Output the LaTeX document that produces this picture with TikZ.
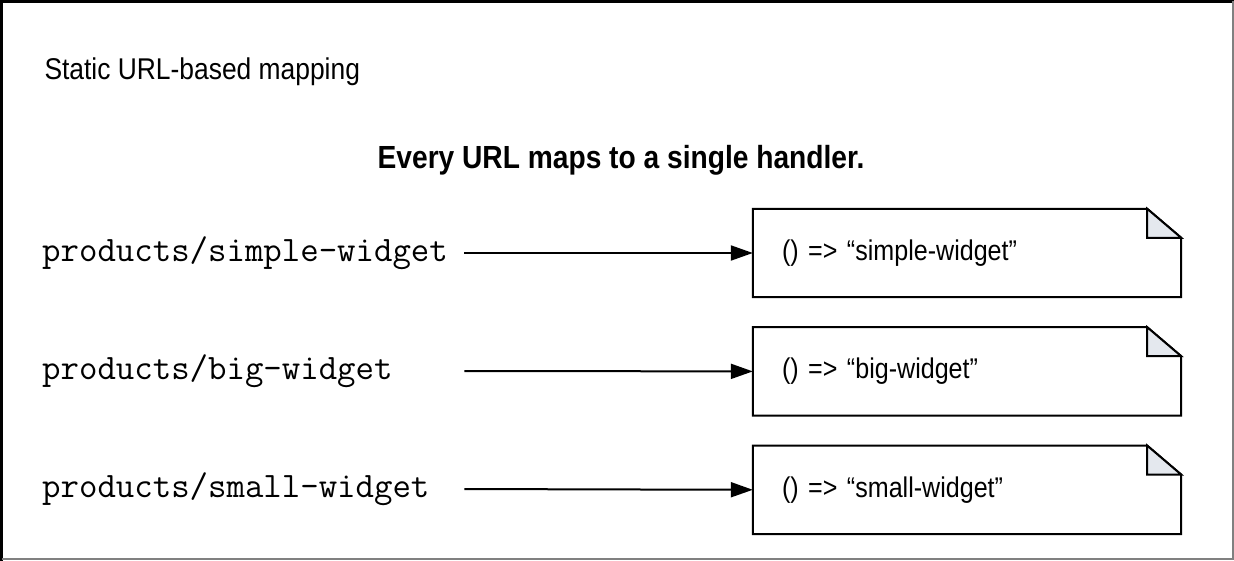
\documentclass[tikz,border=0pt]{standalone}
\usepackage{fontspec}
\setmainfont{Liberation Sans}[FakeStretch=0.88]
\usetikzlibrary{positioning, arrows.meta}
\definecolor{foldgray}{HTML}{E4E8EE}

\begin{document}
\begin{tikzpicture}[x=1pt, y=-1pt, node distance=30pt]
% Define styles
\tikzstyle{route} = [anchor=west, inner sep=0pt, text width=413pt, align=left, font=\fontsize{35.8}{40}\selectfont\ttfamily]
\tikzstyle{handler} = [rectangle, minimum width=428pt, minimum height=88pt, text width=370pt, inner xsep=29pt, align=left, font=\fontsize{28.5}{32}\selectfont]
\tikzstyle{arrow} = [line width=2pt, shorten <=9pt, -{Triangle[length=22pt, width=15pt]}]
\tikzstyle{outline} = [line width=2pt, line join=miter]

\useasboundingbox (0,0) rectangle (1234,561);

% Frame
\draw [line width=3pt] (1.5,561) -- (1.5,1.5) -- (1234,1.5);
\draw [gray, line width=2pt] (1233,1.5) -- (1233,559) -- (1.5,559);

% Titles
\node (title) [anchor=west, font=\fontsize{30}{34}\selectfont] at (41,72) {Static URL-based mapping};
\node (heading) [font=\fontsize{32}{36}\selectfont\bfseries] at (621,160) {Every URL maps to a single handler.};

% Handlers
\node (simple) [handler] at (967,253) {() => “simple-widget”};
\node (big) [handler, below=of simple] {() => “big-widget”};
\node (small) [handler, below=of big] {() => “small-widget”};

% Folded note outlines
\foreach \h in {simple, big, small} {
  \draw [outline] (\h.south west) -- (\h.north west) -- ([xshift=-34pt]\h.north east)
    -- ([yshift=-29pt]\h.north east) -- (\h.south east) -- cycle;
  \draw [outline, fill=foldgray] ([xshift=-34pt]\h.north east) -- ([xshift=-34pt, yshift=-29pt]\h.north east)
    -- ([yshift=-29pt]\h.north east) -- cycle;
}

% Routes
\node (rsimple) [route] at (42,253) {products/simple-widget};
\node (rbig) [route] at (42,371) {products/big-widget};
\node (rsmall) [route] at (42,489) {products/small-widget};

% Mapping arrows
\draw [arrow] (rsimple.east) -- (simple.west);
\draw [arrow] (rbig.east) -- (big.west);
\draw [arrow] (rsmall.east) -- (small.west);

\end{tikzpicture}
\end{document}
